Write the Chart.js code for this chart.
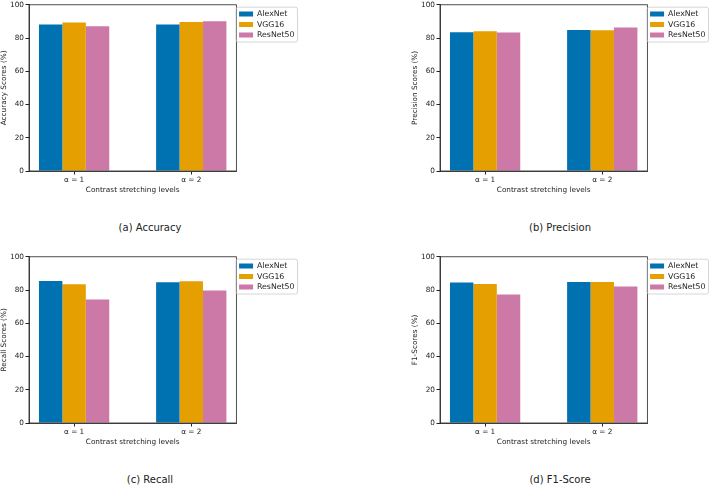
<!DOCTYPE html>
<html>
<head>
<meta charset="utf-8">
<script src="https://cdn.jsdelivr.net/npm/chart.js@4"></script>
<style>
  body { margin: 0; background: #fff; }
  #wrap { position: relative; width: 712px; height: 485px; overflow: hidden; }
  canvas { position: absolute; }
  .cap { position: absolute; width: 200px; margin-left: -100px; text-align: center;
         font: 10px "DejaVu Sans", sans-serif; color: #222; line-height: 12px; }
</style>
</head>
<body>
<div id="wrap">
  <canvas id="accChart" width="305" height="194" style="left:0;top:0"></canvas>
  <canvas id="precChart" width="305" height="194" style="left:411px;top:0"></canvas>
  <canvas id="recChart" width="305" height="194" style="left:0;top:252px"></canvas>
  <canvas id="f1Chart" width="305" height="194" style="left:411px;top:252px"></canvas>
  <div class="cap" style="left:150px;top:222px">(a) Accuracy</div>
  <div class="cap" style="left:560px;top:222px">(b) Precision</div>
  <div class="cap" style="left:150px;top:474px">(c) Recall</div>
  <div class="cap" style="left:560px;top:474px">(d) F1-Score</div>
</div>
<script>
const levels = ['α = 1', 'α = 2'];
const models = ['AlexNet', 'VGG16', 'ResNet50'];
const modelColors = ['#0072B2', '#E69F00', '#CC79A7'];

const accuracyAlexNet = [88.1, 88.1];
const accuracyVGG16 = [89.3, 89.7];
const accuracyResNet50 = [87.1, 90.1];

const precisionAlexNet = [83.5, 84.9];
const precisionVGG16 = [84.1, 84.7];
const precisionResNet50 = [83.3, 86.3];

const recallAlexNet = [85.5, 84.7];
const recallVGG16 = [83.5, 85.3];
const recallResNet50 = [74.3, 79.7];

const f1AlexNet = [84.5, 84.9];
const f1VGG16 = [83.7, 84.9];
const f1ResNet50 = [77.3, 82.1];

const yTicks = [0, 20, 40, 60, 80, 100];

const FONT = 'DejaVu Sans';
const INK = '#222';

// draws top/right spines and the legend frame
const framePlugin = {
    id: 'frame',
    afterDraw(chart) {
        const ctx = chart.ctx;
        const a = chart.chartArea;
        ctx.save();
        ctx.strokeStyle = INK;
        ctx.lineWidth = 0.8;
        ctx.strokeRect(a.left, a.top, a.right - a.left, a.bottom - a.top);
        const boxes = chart.legend.legendHitBoxes;
        if (boxes && boxes.length) {
            const l = Math.min(...boxes.map(b => b.left)) - 3;
            const r = Math.max(...boxes.map(b => b.left + b.width)) + 3;
            const t = boxes[0].top - 3;
            const last = boxes[boxes.length - 1];
            const b = last.top + last.height + 3;
            ctx.strokeStyle = '#cccccc';
            ctx.lineWidth = 0.8;
            ctx.beginPath();
            ctx.roundRect(l, t, r - l, b - t, 2);
            ctx.stroke();
        }
        ctx.restore();
    }
};

function makePanel(canvasId, yTitle, series) {
    const ctx = document.getElementById(canvasId).getContext('2d');
    new Chart(ctx, {
        type: 'bar',
        data: {
            labels: levels.map((_, i) => i),
            datasets: models.map((m, k) => ({
                label: m,
                data: series[k],
                backgroundColor: modelColors[k],
                borderWidth: 0
            }))
        },
        options: {
            responsive: false,
            animation: false,
            categoryPercentage: 0.6,
            barPercentage: 1.0,
            layout: { padding: { top: 0, right: 0.5, left: 0, bottom: 0 } },
            scales: {
                x: {
                    type: 'linear',
                    offset: false,
                    min: -0.385,
                    max: 1.385,
                    afterBuildTicks: s => { s.ticks = levels.map((_, i) => ({ value: i })); },
                    afterFit: s => { s.height = 23; },
                    grid: { offset: false, drawOnChartArea: false, drawTicks: true, tickLength: 3.5, color: INK },
                    border: { display: true, color: INK, width: 0.8 },
                    ticks: {
                        autoSkip: false,
                        maxRotation: 0,
                        padding: 1,
                        color: INK,
                        font: { family: FONT, size: 7.3 },
                        callback: (v, i) => levels[i]
                    },
                    title: {
                        display: true,
                        text: 'Contrast stretching levels',
                        color: INK,
                        padding: { top: 1, bottom: 0 },
                        font: { family: FONT, size: 7.3 }
                    }
                },
                y: {
                    min: 0,
                    max: 100,
                    afterBuildTicks: s => { s.ticks = yTicks.map(v => ({ value: v })); },
                    afterFit: s => { s.width = 29; },
                    grid: { drawOnChartArea: false, drawTicks: true, tickLength: 3.5, color: INK },
                    border: { display: true, color: INK, width: 0.8 },
                    ticks: {
                        padding: 1.5,
                        color: INK,
                        font: { family: FONT, size: 7.3, lineHeight: 0.9 }
                    },
                    title: {
                        display: true,
                        text: yTitle,
                        color: INK,
                        padding: 0,
                        font: { family: FONT, size: 7.3 }
                    }
                }
            },
            plugins: {
                legend: {
                    position: 'right',
                    align: 'start',
                    title: { display: true, text: ' ', font: { size: 1 }, padding: { top: 6.3, bottom: 0 } },
                    labels: {
                        boxWidth: 14,
                        boxHeight: 5,
                        padding: 2.7,
                        color: INK,
                        font: { family: FONT, size: 7.8 }
                    }
                },
                tooltip: { enabled: false }
            }
        },
        plugins: [framePlugin]
    });
}

makePanel('accChart', 'Accuracy Scores (%)', [accuracyAlexNet, accuracyVGG16, accuracyResNet50]);
makePanel('precChart', 'Precision Scores (%)', [precisionAlexNet, precisionVGG16, precisionResNet50]);
makePanel('recChart', 'Recall Scores (%)', [recallAlexNet, recallVGG16, recallResNet50]);
makePanel('f1Chart', 'F1-Scores (%)', [f1AlexNet, f1VGG16, f1ResNet50]);
</script>
</body>
</html>
